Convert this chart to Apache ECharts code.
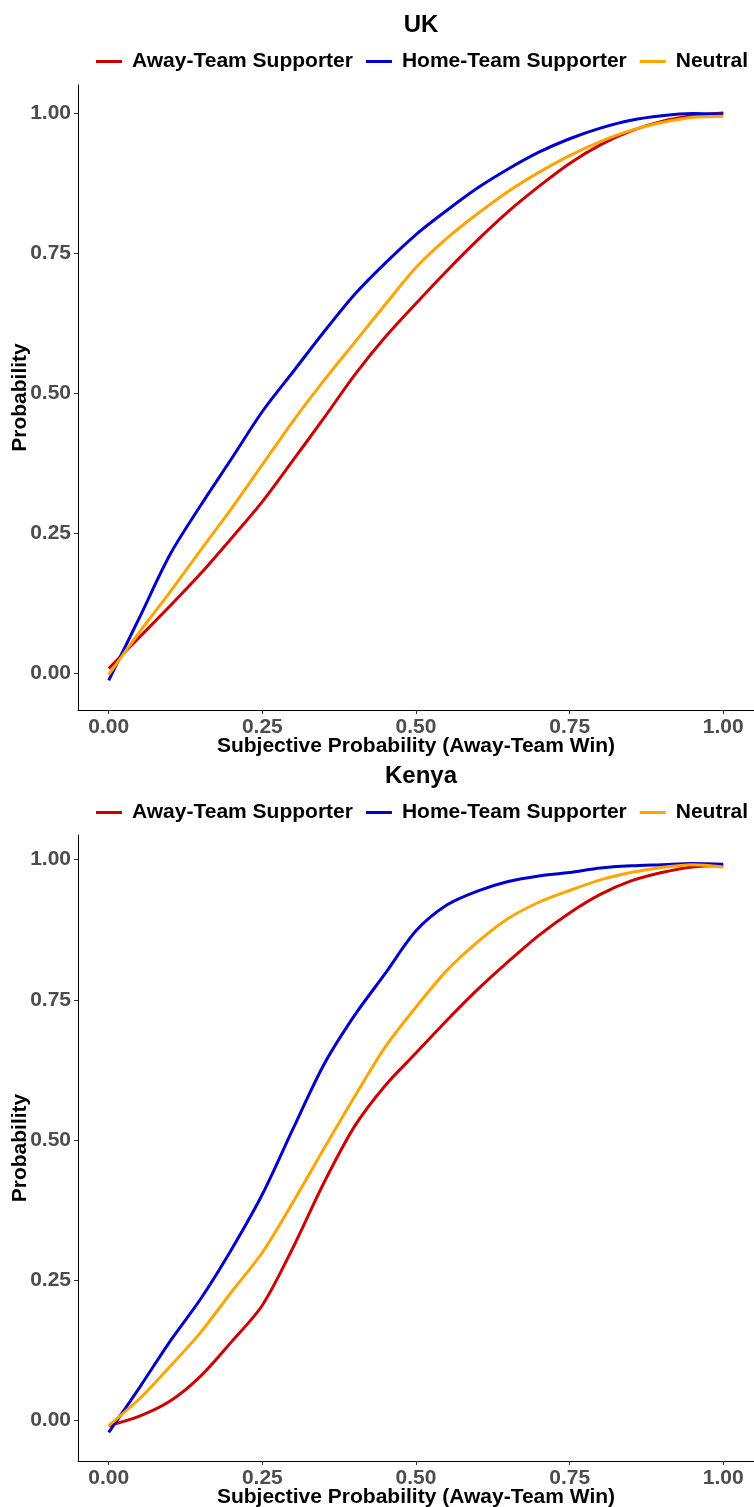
<!DOCTYPE html>
<html>
<head>
<meta charset="utf-8">
<script src="https://cdn.jsdelivr.net/npm/echarts@6/dist/echarts.min.js"></script>
<style>
  html, body { margin: 0; padding: 0; background: #fff; }
  #chart { width: 754px; height: 1507px; }
</style>
</head>
<body>
<div id="chart"></div>
<script>
// subjective probability grid (x)
const xs = [0, 0.05, 0.1, 0.15, 0.2, 0.25, 0.3, 0.35, 0.4, 0.45, 0.5,
            0.55, 0.6, 0.65, 0.7, 0.75, 0.8, 0.85, 0.9, 0.95, 1.0];
const tickValues = [0, 0.25, 0.5, 0.75, 1];
const groupNames = ['Away-Team Supporter', 'Home-Team Supporter', 'Neutral'];
const groupColors = ['#CD0000', '#0000CD', '#FFA500'];

// UK panel
const ukAway = [0.008, 0.064, 0.120, 0.178, 0.241, 0.306, 0.380, 0.455, 0.532, 0.600, 0.660,
                0.718, 0.773, 0.824, 0.869, 0.910, 0.943, 0.968, 0.985, 0.995, 1.000];
const ukHome = [-0.013, 0.099, 0.212, 0.300, 0.383, 0.467, 0.538, 0.609, 0.676, 0.732, 0.783,
                0.826, 0.866, 0.900, 0.930, 0.954, 0.973, 0.987, 0.995, 0.999, 0.998];
const ukNeutral = [-0.003, 0.073, 0.145, 0.220, 0.294, 0.372, 0.450, 0.522, 0.590, 0.658, 0.724,
                   0.776, 0.820, 0.860, 0.894, 0.924, 0.949, 0.969, 0.983, 0.992, 0.994];

// Kenya panel
const keAway = [-0.010, 0.007, 0.034, 0.079, 0.140, 0.205, 0.308, 0.423, 0.524, 0.597, 0.655,
                0.713, 0.768, 0.818, 0.865, 0.905, 0.938, 0.962, 0.977, 0.987, 0.989];
const keHome = [-0.022, 0.058, 0.141, 0.217, 0.305, 0.403, 0.520, 0.634, 0.722, 0.797, 0.873,
                0.919, 0.944, 0.961, 0.971, 0.977, 0.985, 0.989, 0.991, 0.993, 0.992];
const keNeutral = [-0.010, 0.038, 0.096, 0.157, 0.229, 0.299, 0.389, 0.484, 0.577, 0.666, 0.737,
                   0.802, 0.853, 0.895, 0.924, 0.945, 0.964, 0.977, 0.986, 0.991, 0.987];

const FONT = 'Liberation Sans, Arial, sans-serif';
const pairs = ys => xs.map((x, i) => [x, ys[i]]);

const makeX = (gridIndex) => ({
  type: 'value',
  gridIndex: gridIndex,
  min: -0.05,
  max: 1.05,
  name: 'Subjective Probability (Away-Team Win)',
  nameLocation: 'middle',
  nameGap: 26,
  nameMoveOverlap: false,
  nameTextStyle: { color: '#000', fontSize: 21, fontWeight: 'bold', fontFamily: FONT },
  splitLine: { show: false },
  axisLine: { onZero: false, lineStyle: { color: '#000', width: 1 } },
  axisTick: { customValues: tickValues, length: 4, lineStyle: { color: '#333' } },
  axisLabel: {
    customValues: tickValues,
    margin: 7,
    color: '#4D4D4D', fontSize: 21, fontWeight: 'bold', fontFamily: FONT,
    formatter: v => v.toFixed(2)
  }
});

const makeY = (gridIndex, min, max) => ({
  type: 'value',
  gridIndex: gridIndex,
  min: min,
  max: max,
  name: 'Probability',
  nameLocation: 'middle',
  nameGap: 47,
  nameMoveOverlap: false,
  nameTextStyle: { color: '#000', fontSize: 21, fontWeight: 'bold', fontFamily: FONT },
  splitLine: { show: false },
  axisLine: { show: true, onZero: false, lineStyle: { color: '#000', width: 1 } },
  axisTick: { show: true, customValues: tickValues, length: 4, lineStyle: { color: '#333' } },
  axisLabel: {
    customValues: tickValues,
    margin: 7,
    color: '#4D4D4D', fontSize: 21, fontWeight: 'bold', fontFamily: FONT,
    formatter: v => v.toFixed(2)
  }
});

const makeLegend = (top) => ({
  top: top,
  left: 91,
  itemWidth: 26,
  itemHeight: 3,
  itemGap: 13,
  icon: 'rect',
  data: groupNames,
  textStyle: { color: '#000', fontSize: 21, fontWeight: 'bold', fontFamily: FONT, padding: [0, 0, 0, 5] }
});

const makeSeries = (name, color, data, idx) => ({
  name: name,
  type: 'line',
  xAxisIndex: idx,
  yAxisIndex: idx,
  data: pairs(data),
  smooth: 0.3,
  showSymbol: false,
  lineStyle: { color: color, width: 3 },
  itemStyle: { color: color }
});

const chart = echarts.init(document.getElementById('chart'));
chart.setOption({
  animation: false,
  backgroundColor: '#fff',
  title: [
    { text: 'UK', left: 416, top: 8, textAlign: 'center',
      textStyle: { fontSize: 24, fontWeight: 'bold', color: '#000', fontFamily: FONT } },
    { text: 'Kenya', left: 416, top: 759, textAlign: 'center',
      textStyle: { fontSize: 24, fontWeight: 'bold', color: '#000', fontFamily: FONT } }
  ],
  legend: [makeLegend(46), makeLegend(797)],
  grid: [
    { left: 78, right: 0, top: 85, height: 625, containLabel: false, outerBoundsMode: 'none' },
    { left: 78, right: 0, top: 835, height: 626, containLabel: false, outerBoundsMode: 'none' }
  ],
  xAxis: [makeX(0), makeX(1)],
  yAxis: [makeY(0, -0.066, 1.05), makeY(1, -0.073, 1.044)],
  series: [
    makeSeries(groupNames[0], groupColors[0], ukAway, 0),
    makeSeries(groupNames[1], groupColors[1], ukHome, 0),
    makeSeries(groupNames[2], groupColors[2], ukNeutral, 0),
    makeSeries(groupNames[0], groupColors[0], keAway, 1),
    makeSeries(groupNames[1], groupColors[1], keHome, 1),
    makeSeries(groupNames[2], groupColors[2], keNeutral, 1)
  ]
});
</script>
</body>
</html>
